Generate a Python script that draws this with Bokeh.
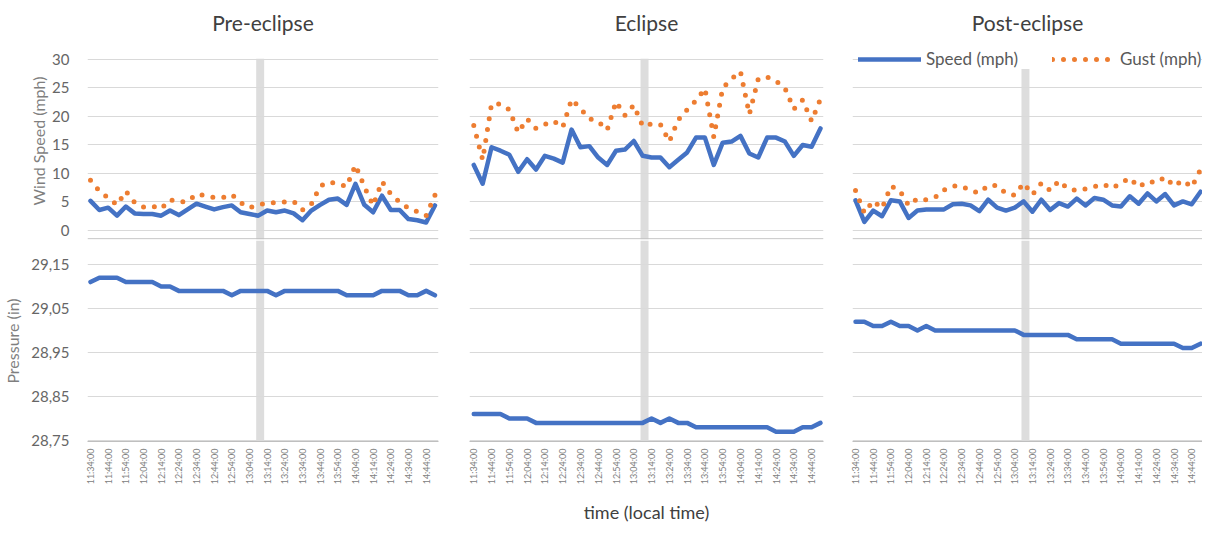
import math
from bokeh.plotting import figure
from bokeh.layouts import gridplot
from bokeh.models import (Range1d, FixedTicker, CustomJSTickFormatter, BoxAnnotation, Span,
                          Legend, LegendItem, Title)
from bokeh.embed import file_html
from bokeh.resources import INLINE

# ---------------- data ----------------
PANELS = ["Pre-eclipse", "Eclipse", "Post-eclipse"]
STEP_MIN = 5            # one reading every 5 minutes, starting 11:34
N_POINTS = 40
TICK_LABELS = ["11:34:00", "11:44:00", "11:54:00", "12:04:00", "12:14:00", "12:24:00",
               "12:34:00", "12:44:00", "12:54:00", "13:04:00", "13:14:00", "13:24:00",
               "13:34:00", "13:44:00", "13:54:00", "14:04:00", "14:14:00", "14:24:00",
               "14:34:00", "14:44:00"]
# eclipse maximum marker (minutes after 11:34)
MAX_START, MAX_END = 93.8, 98.3

speed_pre = [5.2, 3.6, 4.0, 2.6, 4.2, 3.0, 2.9, 2.9, 2.6, 3.5,
             2.7, 3.7, 4.7, 4.2, 3.7, 4.1, 4.4, 3.2, 2.9, 2.6,
             3.5, 3.2, 3.5, 3.0, 1.8, 3.5, 4.5, 5.4, 5.6, 4.5,
             8.2, 4.5, 3.2, 6.1, 3.6, 3.6, 2.0, 1.8, 1.4, 4.4]
gust_pre = [8.8, 6.9, 5.7, 4.5, 6.9, 4.9, 4.1, 4.3, 3.8, 5.4,
            5.0, 5.1, 6.4, 6.1, 5.8, 5.8, 6.3, 4.9, 4.0, 4.5,
            4.8, 4.9, 5.0, 5.1, 3.6, 4.6, 7.8, 8.5, 8.2, 7.7,
            11.5, 7.7, 4.4, 8.6, 6.4, 5.0, 3.9, 3.3, 2.6, 6.2]
pressure_pre = [29.11, 29.12, 29.12, 29.12, 29.11, 29.11, 29.11, 29.11, 29.10, 29.10,
                29.09, 29.09, 29.09, 29.09, 29.09, 29.09, 29.08, 29.09, 29.09, 29.09,
                29.09, 29.08, 29.09, 29.09, 29.09, 29.09, 29.09, 29.09, 29.09, 29.08,
                29.08, 29.08, 29.08, 29.09, 29.09, 29.09, 29.08, 29.08, 29.09, 29.08]

speed_ecl = [11.5, 8.2, 14.6, 14.0, 13.3, 10.3, 12.5, 10.7, 13.1, 12.6,
             11.9, 17.7, 14.6, 14.8, 12.8, 11.5, 14.0, 14.2, 15.7, 13.1,
             12.8, 12.8, 11.1, 12.4, 13.7, 16.3, 16.3, 11.5, 15.4, 15.6,
             16.6, 13.5, 12.8, 16.3, 16.3, 15.6, 13.1, 15.0, 14.7, 17.9]
gust_ecl = [18.4, 12.4, 22.2, 22.2, 21.2, 17.2, 19.6, 17.9, 18.6, 19.2,
            18.1, 23.0, 21.4, 19.6, 19.1, 17.6, 22.6, 20.2, 22.0, 18.3,
            18.7, 18.6, 15.6, 19.4, 21.2, 22.8, 24.9, 16.4, 25.0, 26.6,
            27.9, 20.4, 26.6, 26.9, 26.2, 25.0, 21.3, 22.9, 19.2, 23.1]
pressure_ecl = [28.81, 28.81, 28.81, 28.81, 28.80, 28.80, 28.80, 28.79, 28.79, 28.79,
                28.79, 28.79, 28.79, 28.79, 28.79, 28.79, 28.79, 28.79, 28.79, 28.79,
                28.80, 28.79, 28.80, 28.79, 28.79, 28.78, 28.78, 28.78, 28.78, 28.78,
                28.78, 28.78, 28.78, 28.78, 28.77, 28.77, 28.77, 28.78, 28.78, 28.79]

speed_post = [5.3, 1.5, 3.5, 2.5, 5.3, 5.1, 2.2, 3.5, 3.7, 3.7,
              3.7, 4.6, 4.7, 4.4, 3.4, 5.4, 4.0, 3.5, 4.0, 5.1,
              3.3, 5.4, 3.6, 4.8, 4.2, 5.6, 4.4, 5.7, 5.4, 4.4,
              4.2, 6.0, 4.7, 6.5, 5.1, 6.4, 4.4, 5.1, 4.6, 6.8]
gust_post = [7.0, 3.1, 5.2, 3.9, 7.8, 7.0, 4.4, 5.6, 5.4, 5.8,
             7.1, 7.8, 7.8, 7.0, 6.6, 7.9, 7.9, 6.5, 6.2, 8.3,
             6.3, 8.3, 7.0, 8.7, 7.3, 7.0, 7.3, 7.7, 8.1, 7.4,
             8.3, 9.2, 7.6, 8.6, 8.4, 9.4, 7.8, 8.8, 7.6, 10.7]
pressure_post = [29.02, 29.02, 29.01, 29.01, 29.02, 29.01, 29.01, 29.00, 29.01, 29.00,
                 29.00, 29.00, 29.00, 29.00, 29.00, 29.00, 29.00, 29.00, 29.00, 28.99,
                 28.99, 28.99, 28.99, 28.99, 28.99, 28.98, 28.98, 28.98, 28.98, 28.98,
                 28.97, 28.97, 28.97, 28.97, 28.97, 28.97, 28.97, 28.96, 28.96, 28.97]

SPEED_TICKS = [0, 5, 10, 15, 20, 25, 30]
PRESSURE_TICKS = [28.75, 28.85, 28.95, 29.05, 29.15]

SPEEDS = [speed_pre, speed_ecl, speed_post]
GUSTS = [gust_pre, gust_ecl, gust_post]
PRESSURES = [pressure_pre, pressure_ecl, pressure_post]

# ---------------- style ----------------
FONT = "Lato"
BLUE = "#4472C4"
ORANGE = "#ED7D31"
GRID = "#d9d9d9"
AXIS = "#bfbfbf"
BAND = "#d9d9d9"

x = [STEP_MIN * i for i in range(N_POINTS)]
tick_pos = [10 * k for k in range(len(TICK_LABELS))]

FRAME_W = [351, 354, 350]
BORDER_L = [79, 21, 23]
BORDER_R = [10, 6, 0]
X_RANGES = [(-1.7, 197.0), (-2.4, 196.7), (-1.7, 196.1)]

top_figs, bot_figs = [], []
for i in range(3):
    # ---- wind speed chart ----
    pt = figure(frame_width=FRAME_W[i], frame_height=197,
                min_border_left=BORDER_L[i], min_border_right=BORDER_R[i],
                min_border_top=34, min_border_bottom=1,
                x_range=Range1d(*X_RANGES[i]), y_range=Range1d(-1.58, 32.98),
                output_backend="svg", toolbar_location=None, title=PANELS[i])
    pt.title.align = "center"
    pt.title.text_font = FONT
    pt.title.text_font_size = "21px"
    pt.title.text_font_style = "normal"
    pt.title.text_color = "#404040"
    pt.title.standoff = 15
    pt.outline_line_color = None
    pt.xaxis.visible = False
    pt.xgrid.visible = False
    pt.ygrid.ticker = FixedTicker(ticks=SPEED_TICKS)
    pt.ygrid.grid_line_color = GRID
    pt.yaxis.ticker = FixedTicker(ticks=SPEED_TICKS)
    pt.yaxis.axis_line_color = None
    pt.yaxis.major_tick_line_color = None
    pt.yaxis.minor_tick_line_color = None
    pt.yaxis.major_label_text_font = FONT
    pt.yaxis.major_label_text_font_size = "15px"
    pt.yaxis.major_label_text_color = "#666666"
    pt.yaxis.major_label_standoff = 12
    if i == 0:
        pt.yaxis.axis_label = "Wind Speed (mph)"
        pt.yaxis.axis_label_text_font = FONT
        pt.yaxis.axis_label_text_font_size = "16px"
        pt.yaxis.axis_label_text_font_style = "normal"
        pt.yaxis.axis_label_text_color = "#7f7f7f"
        pt.yaxis.axis_label_standoff = 1
    else:
        pt.yaxis.visible = False
    pt.add_layout(BoxAnnotation(left=MAX_START, right=MAX_END, top=30.15,
                                fill_color=BAND, fill_alpha=0.9, line_color=None,
                                level="underlay"))
    pt.add_layout(Span(location=-1.45, dimension="width", line_color=AXIS, line_width=1))
    sr = pt.line(x, SPEEDS[i], line_color=BLUE, line_width=4.5,
                 line_join="round", line_cap="round")
    gr = pt.line(x, GUSTS[i], line_color=ORANGE, line_width=5,
                 line_dash="0 11", line_cap="round")
    if i == 2:
        legend = Legend(items=[LegendItem(label="Speed (mph)", renderers=[sr]),
                               LegendItem(label="Gust (mph)", renderers=[gr])],
                        orientation="horizontal", location=(6, 170),
                        glyph_width=63, glyph_height=20, label_standoff=5, spacing=34,
                        padding=2, margin=0, border_line_color=None,
                        background_fill_color="white", background_fill_alpha=1.0,
                        label_text_font=FONT, label_text_font_size="17px",
                        label_text_color="#595959")
        pt.add_layout(legend)
    top_figs.append(pt)

    # ---- pressure chart ----
    pb = figure(frame_width=FRAME_W[i], frame_height=201,
                min_border_left=BORDER_L[i], min_border_right=BORDER_R[i],
                min_border_top=0, min_border_bottom=84,
                x_range=Range1d(*X_RANGES[i]), y_range=Range1d(28.7477, 29.2045),
                output_backend="svg", toolbar_location=None)
    pb.outline_line_color = None
    pb.xgrid.visible = False
    pb.ygrid.ticker = FixedTicker(ticks=PRESSURE_TICKS)
    pb.ygrid.grid_line_color = GRID
    pb.xaxis.ticker = FixedTicker(ticks=tick_pos)
    pb.xaxis.major_label_overrides = {t: lab for t, lab in zip(tick_pos, TICK_LABELS)}
    pb.xaxis.major_label_orientation = math.pi / 2
    pb.xaxis.major_label_text_font = FONT
    pb.xaxis.major_label_text_font_size = "9px"
    pb.xaxis.major_label_text_color = "#808080"
    pb.xaxis.major_label_standoff = 1
    pb.xaxis.axis_line_color = AXIS
    pb.xaxis.major_tick_line_color = None
    pb.xaxis.minor_tick_line_color = None
    pb.yaxis.ticker = FixedTicker(ticks=PRESSURE_TICKS)
    pb.yaxis.formatter = CustomJSTickFormatter(code="return tick.toFixed(2).replace('.', ',');")
    pb.yaxis.axis_line_color = None
    pb.yaxis.major_tick_line_color = None
    pb.yaxis.minor_tick_line_color = None
    pb.yaxis.major_label_text_font = FONT
    pb.yaxis.major_label_text_font_size = "15px"
    pb.yaxis.major_label_text_color = "#666666"
    pb.yaxis.major_label_standoff = 12
    if i == 0:
        pb.yaxis.axis_label = "Pressure (in)"
        pb.yaxis.axis_label_text_font = FONT
        pb.yaxis.axis_label_text_font_size = "16px"
        pb.yaxis.axis_label_text_font_style = "normal"
        pb.yaxis.axis_label_text_color = "#7f7f7f"
        pb.yaxis.axis_label_standoff = 6
    else:
        pb.yaxis.visible = False
    pb.add_layout(BoxAnnotation(left=MAX_START, right=MAX_END, bottom=28.639,
                                fill_color=BAND, fill_alpha=0.9, line_color=None,
                                level="underlay"))
    pb.line(x, PRESSURES[i], line_color=BLUE, line_width=4.5,
            line_join="round", line_cap="round")
    if i == 1:
        pb.add_layout(Title(text="time (local time)", align="center", offset=-48,
                            text_font=FONT, text_font_size="18px",
                            text_font_style="normal", text_color="#404040",
                            standoff=22), "below")
    bot_figs.append(pb)

grid = gridplot([top_figs, bot_figs], toolbar_location=None)
open("out.html", "w").write(file_html(grid, INLINE))
